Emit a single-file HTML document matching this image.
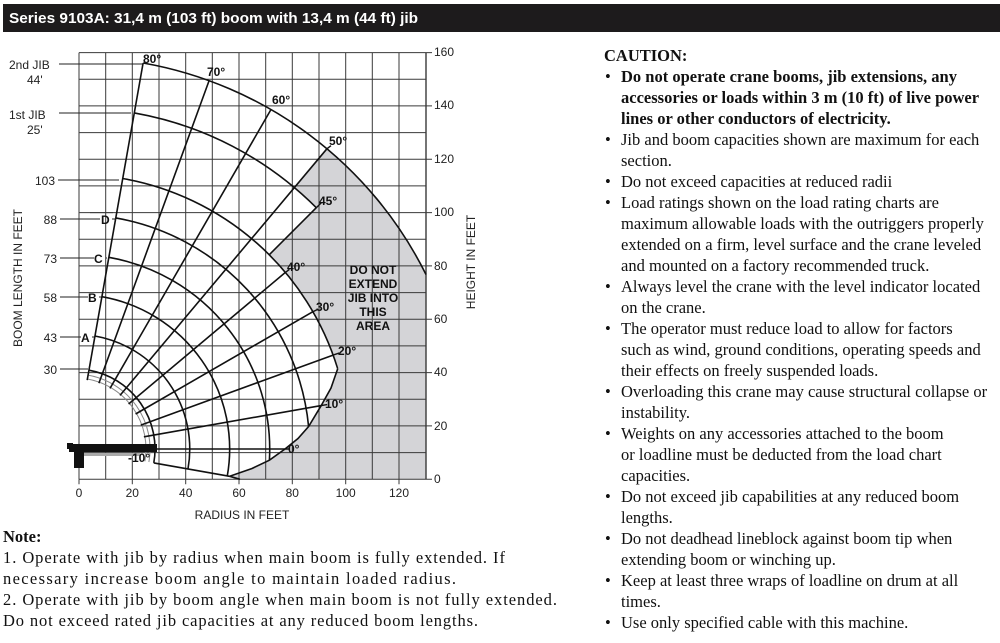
<!DOCTYPE html>
<html><head><meta charset="utf-8"><style>
html,body{margin:0;padding:0;background:#fff;width:1000px;height:643px;overflow:hidden}
svg{display:block}
.s{font-family:"Liberation Sans",sans-serif;font-size:12px;fill:#222}
.b{font-family:"Liberation Sans",sans-serif;font-size:12px;font-weight:bold;fill:#111}
.t{font-family:"Liberation Serif",serif;font-size:16.5px;fill:#111}
.n{font-family:"Liberation Serif",serif;font-size:16.5px;fill:#111}
</style></head><body>
<svg width="1000" height="643" viewBox="0 0 1000 643" xmlns="http://www.w3.org/2000/svg">
<rect x="3" y="4" width="997" height="28" fill="#1d1b1c"/>
<text x="9" y="23" font-family="Liberation Sans,sans-serif" font-size="15" font-weight="bold" fill="#fff" textLength="409" lengthAdjust="spacingAndGlyphs">Series 9103A: 31,4 m (103 ft) boom with 13,4 m (44 ft) jib</text>

<path d="M327,148.7 A392 392 0 0 1 426,274.5 L426,479.3 L240,479.3 L229.6,476.3 L252,468.5 L269.4,460.2 L285,449 L298,438.5 L308.6,426.5 L321.2,405.6 L331,388 L337.7,368.7 A274.7 274.7 0 0 0 269.2,254.8 L316.3,207.7 A341.3 341.3 0 0 0 294.4,187.6 Z" fill="#d4d4d7"/>

<g stroke="#3a3a3a" stroke-width="1" fill="none">
<path d="M79,52.6V479.3M105.7,52.6V479.3M132.3,52.6V479.3M159,52.6V479.3M185.7,52.6V479.3M212.3,52.6V479.3M239,52.6V479.3M265.7,52.6V479.3M292.3,52.6V479.3M319,52.6V479.3M345.7,52.6V479.3M372.3,52.6V479.3M399,52.6V479.3"/>
<path d="M79,52.6H426M79,79.3H426M79,105.9H426M79,132.6H426M79,159.3H426M79,185.9H426M79,212.6H426M79,239.3H426M79,265.9H426M79,292.6H426M79,319.3H426M79,345.9H426M79,372.6H426M79,399.3H426M79,425.9H426M79,452.6H426M79,479.3H426"/>
<path d="M426,52.6V479.3" stroke-width="1.4"/>
<path d="M426,52.6h6M426,105.9h6M426,159.3h6M426,212.6h6M426,265.9h6M426,319.3h6M426,372.6h6M426,425.9h6M426,479.3h6"/>
<path d="M79,479.3v5M132.3,479.3v5M185.7,479.3v5M239,479.3v5M292.3,479.3v5M345.7,479.3v5M399,479.3v5"/>
<path d="M90,212.6H113"/>
</g>

<g stroke="#888" stroke-width="1" fill="none">
<path d="M87.3,379 A71 71 0 0 1 144.9,461.3"/>
<path d="M88,375.1 A75 75 0 0 1 148.9,462"/>
</g>

<g stroke="#111" stroke-width="1.6" fill="none">
<path d="M88.9,370.2 A80 80 0 0 1 153.8,462.9"/>
<path d="M94.9,336 A114.7 114.7 0 0 1 188,468.9"/>
<path d="M101.9,296.7 A154.7 154.7 0 0 1 227.3,475.9"/>
<path d="M108.8,257.3 A194.7 194.7 0 0 1 269.4,460.2"/>
<path d="M115.7,217.9 A234.7 234.7 0 0 1 308.6,426.5"/>
<path d="M122.7,178.5 A274.7 274.7 0 0 1 337.7,368.7"/>
<path d="M134.3,112.9 A341.3 341.3 0 0 1 316.3,207.7"/>
<path d="M143.1,63 A392 392 0 0 1 426,274.5"/>
<path d="M337.7,368.7 L331,388 L321.2,405.6 L308.6,426.5 L298,438.5 L285,449 L269.4,460.2 L252,468.5 L229.6,476.3 L240,479.3"/>
<path d="M87.2,380.1L143.1,63"/>
<path d="M98.9,383.2L209.1,80.6"/>
<path d="M110,388.4L271,109.5"/>
<path d="M120,395.4L327,148.7"/>
<path d="M269.2,254.8L316.3,207.7"/>
<path d="M128.6,404L285.4,272.4"/>
<path d="M135.6,414L312.9,311.7"/>
<path d="M140.8,425.1L333.1,355.1"/>
<path d="M143.9,436.8L321.2,405.6"/>
<path d="M145,449L285,449"/>
<path d="M153.8,462.9L229.6,476.3"/>
</g>
<g stroke="#111" stroke-width="1.4">
<path d="M333.1,355.1l6,-2M321.2,405.6l6,-1M285,449h5M327,148.7l4,-3M316.3,207.7l5,-5M285.4,272.4l4,-3M312.9,311.7l4,-2"/>
</g>

<g stroke="#222" stroke-width="1.1">
<path d="M59,64H142M59,113H131M58,180H119M60,219H100M112,219H116M60,258H94M106,258H107M60,297H88M99,297H101M60,337H81M92,337H94M60,369H88"/>
</g>

<rect x="84" y="453" width="56" height="3" fill="#aaa"/>
<rect x="69" y="444" width="88" height="8" fill="#111"/>
<rect x="74" y="448" width="10" height="20" fill="#111"/>
<rect x="67" y="443" width="6" height="6" fill="#111"/>

<text class="s" x="9" y="69">2nd JIB</text>
<text class="s" x="27" y="84">44'</text>
<text class="s" x="9" y="119">1st JIB</text>
<text class="s" x="27" y="134">25'</text>
<text class="s" x="55" y="185" text-anchor="end">103</text>
<text class="s" x="57" y="224" text-anchor="end">88</text>
<text class="s" x="57" y="263" text-anchor="end">73</text>
<text class="s" x="57" y="302" text-anchor="end">58</text>
<text class="s" x="57" y="342" text-anchor="end">43</text>
<text class="s" x="57" y="374" text-anchor="end">30</text>
<text class="b" x="101" y="224">D</text>
<text class="b" x="94" y="263">C</text>
<text class="b" x="88" y="302">B</text>
<text class="b" x="81" y="342">A</text>
<text class="s" transform="translate(22,278) rotate(-90)" text-anchor="middle">BOOM LENGTH IN FEET</text>
<text class="s" transform="translate(475,262) rotate(-90)" text-anchor="middle">HEIGHT IN FEET</text>

<text class="b" x="143" y="63">80°</text>
<text class="b" x="207" y="76">70°</text>
<text class="b" x="272" y="104">60°</text>
<text class="b" x="329" y="145">50°</text>
<text class="b" x="319" y="205">45°</text>
<text class="b" x="287" y="271">40°</text>
<text class="b" x="316" y="311">30°</text>
<text class="b" x="338" y="355">20°</text>
<text class="b" x="325" y="408">10°</text>
<text class="b" x="288" y="453">0°</text>
<text class="b" x="128" y="462">-10°</text>

<text class="b" x="373" y="274" text-anchor="middle">DO NOT</text>
<text class="b" x="373" y="288" text-anchor="middle">EXTEND</text>
<text class="b" x="373" y="302" text-anchor="middle">JIB INTO</text>
<text class="b" x="373" y="316" text-anchor="middle">THIS</text>
<text class="b" x="373" y="330" text-anchor="middle">AREA</text>

<text class="s" x="434" y="56">160</text>
<text class="s" x="434" y="109">140</text>
<text class="s" x="434" y="163">120</text>
<text class="s" x="434" y="216">100</text>
<text class="s" x="434" y="270">80</text>
<text class="s" x="434" y="323">60</text>
<text class="s" x="434" y="376">40</text>
<text class="s" x="434" y="430">20</text>
<text class="s" x="434" y="483">0</text>
<text class="s" x="79" y="497" text-anchor="middle">0</text>
<text class="s" x="132.3" y="497" text-anchor="middle">20</text>
<text class="s" x="185.7" y="497" text-anchor="middle">40</text>
<text class="s" x="239" y="497" text-anchor="middle">60</text>
<text class="s" x="292.3" y="497" text-anchor="middle">80</text>
<text class="s" x="345.7" y="497" text-anchor="middle">100</text>
<text class="s" x="399" y="497" text-anchor="middle">120</text>
<text class="s" x="242" y="519" text-anchor="middle">RADIUS IN FEET</text>

<text class="n" x="3" y="542" font-weight="bold">Note:</text>
<text class="n" x="3" y="563" textLength="502" lengthAdjust="spacing">1. Operate with jib by radius when main boom is fully extended. If</text>
<text class="n" x="3" y="584" textLength="453" lengthAdjust="spacing">necessary increase boom angle to maintain loaded radius.</text>
<text class="n" x="3" y="605" textLength="554" lengthAdjust="spacing">2. Operate with jib by boom angle when main boom is not fully extended.</text>
<text class="n" x="3" y="626" textLength="475" lengthAdjust="spacing">Do not exceed rated jib capacities at any reduced boom lengths.</text>

<text class="t" x="604" y="61" font-weight="bold">CAUTION:</text>
<text class="t" x="605" y="82">•</text><text class="t" x="621" y="82" font-weight="bold">Do not operate crane booms, jib extensions, any</text>
<text class="t" x="621" y="103" font-weight="bold">accessories or loads within 3 m (10 ft) of live power</text>
<text class="t" x="621" y="124" font-weight="bold">lines or other conductors of electricity.</text>
<text class="t" x="605" y="145">•</text><text class="t" x="621" y="145">Jib and boom capacities shown are maximum for each</text>
<text class="t" x="621" y="166">section.</text>
<text class="t" x="605" y="187">•</text><text class="t" x="621" y="187">Do not exceed capacities at reduced radii</text>
<text class="t" x="605" y="208">•</text><text class="t" x="621" y="208">Load ratings shown on the load rating charts are</text>
<text class="t" x="621" y="229">maximum allowable loads with the outriggers properly</text>
<text class="t" x="621" y="250">extended on a firm, level surface and the crane leveled</text>
<text class="t" x="621" y="271">and mounted on a factory recommended truck.</text>
<text class="t" x="605" y="292">•</text><text class="t" x="621" y="292">Always level the crane with the level indicator located</text>
<text class="t" x="621" y="313">on the crane.</text>
<text class="t" x="605" y="334">•</text><text class="t" x="621" y="334">The operator must reduce load to allow for factors</text>
<text class="t" x="621" y="355">such as wind, ground conditions, operating speeds and</text>
<text class="t" x="621" y="376">their effects on freely suspended loads.</text>
<text class="t" x="605" y="397">•</text><text class="t" x="621" y="397">Overloading this crane may cause structural collapse or</text>
<text class="t" x="621" y="418">instability.</text>
<text class="t" x="605" y="439">•</text><text class="t" x="621" y="439">Weights on any accessories attached to the boom</text>
<text class="t" x="621" y="460">or loadline must be deducted from the load chart</text>
<text class="t" x="621" y="481">capacities.</text>
<text class="t" x="605" y="502">•</text><text class="t" x="621" y="502">Do not exceed jib capabilities at any reduced boom</text>
<text class="t" x="621" y="523">lengths.</text>
<text class="t" x="605" y="544">•</text><text class="t" x="621" y="544">Do not deadhead lineblock against boom tip when</text>
<text class="t" x="621" y="565">extending boom or winching up.</text>
<text class="t" x="605" y="586">•</text><text class="t" x="621" y="586">Keep at least three wraps of loadline on drum at all</text>
<text class="t" x="621" y="607">times.</text>
<text class="t" x="605" y="628">•</text><text class="t" x="621" y="628">Use only specified cable with this machine.</text>
</svg>
</body></html>
